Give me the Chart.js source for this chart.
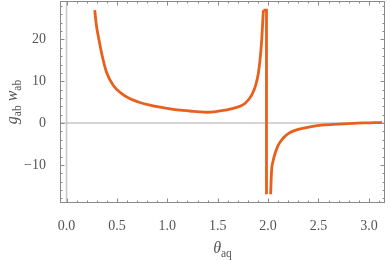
<!DOCTYPE html>
<html><head><meta charset="utf-8">
<script src="https://cdn.jsdelivr.net/npm/chart.js@4"></script>
<style>html,body{margin:0;padding:0;background:#fff}#wrap{width:390px;height:260px}</style>
</head><body><div id="wrap"><canvas id="c"></canvas></div>
<script>
// ---- data ----
const thetaLeft = [0.280,0.296,0.319,0.352,0.395,0.461,0.544,0.63,0.72,0.828,0.93,1.027,1.125,1.225,1.32,1.39,1.48,1.572,1.68,1.77,1.837,1.877,1.903,1.92,1.937,1.953];
const gwLeft    = [27,23.4,20.3,16.3,12.3,9.1,7.1,5.8,5.0,4.3,3.8,3.4,3.1,2.9,2.7,2.6,2.75,3.1,3.7,4.7,6.7,9.1,11.9,15.1,20,27];
const thetaJump = [1.953,1.984,1.984];
const gwJump    = [27,27,-17];
const thetaRight = [2.025,2.035,2.05,2.07,2.10,2.12,2.16,2.20,2.26,2.33,2.43,2.53,2.65,2.80,2.95,3.05,3.13];
const gwRight    = [-17,-11.2,-9,-7.2,-5.3,-4.5,-3.3,-2.5,-1.8,-1.3,-0.85,-0.5,-0.3,-0.1,0.05,0.1,0.15];
const xMajorTicks = [0,0.5,1.0,1.5,2.0,2.5,3.0];
const yMajorTicks = [-10,0,10,20];
const xMinorStep = 0.1, yMinorStep = 2;
const xRange = [-0.065, 3.16], yRange = [-19.1, 29.2];

const lineColor = '#E8601C';
const frameColor = '#8a8a8a';
const textColor = '#555';
const serif = "'Liberation Serif','DejaVu Serif',serif";

const toPts = (xs, ys) => xs.map((v, i) => ({x: v, y: ys[i]}));

const framePlugin = {
  id: 'frame',
  beforeDatasetsDraw(chart) {
    const {ctx, chartArea: a, scales: {x, y}} = chart;
    ctx.save();
    ctx.strokeStyle = '#c8c8c8';
    ctx.lineWidth = 1.5;
    const x0 = x.getPixelForValue(0), y0 = y.getPixelForValue(0);
    ctx.beginPath();
    ctx.moveTo(x0, a.top); ctx.lineTo(x0, a.bottom);
    ctx.moveTo(a.left, y0); ctx.lineTo(a.right, y0);
    ctx.stroke();
    ctx.restore();
  },
  afterDatasetsDraw(chart) {
    const {ctx, chartArea: a, scales: {x, y}} = chart;
    ctx.save();
    ctx.strokeStyle = frameColor;
    ctx.lineWidth = 1;
    ctx.strokeRect(Math.round(a.left) + 0.5, Math.round(a.top) + 0.5,
                   Math.round(a.right - a.left) - 1, Math.round(a.bottom - a.top) - 1);
    ctx.beginPath();
    const xt = (v, len) => {
      const p = Math.round(x.getPixelForValue(v)) + 0.5;
      ctx.moveTo(p, a.bottom); ctx.lineTo(p, a.bottom - len);
      ctx.moveTo(p, a.top); ctx.lineTo(p, a.top + len);
    };
    const yt = (v, len) => {
      const p = Math.round(y.getPixelForValue(v)) + 0.5;
      ctx.moveTo(a.left, p); ctx.lineTo(a.left + len, p);
      ctx.moveTo(a.right, p); ctx.lineTo(a.right - len, p);
    };
    for (let k = Math.ceil(xRange[0] / xMinorStep); k * xMinorStep <= xRange[1]; k++) {
      const v = +(k * xMinorStep).toFixed(6);
      const major = xMajorTicks.some(m => Math.abs(m - v) < 1e-6);
      xt(v, major ? 4.5 : 2.5);
    }
    for (let k = Math.ceil(yRange[0] / yMinorStep); k * yMinorStep <= yRange[1]; k++) {
      const v = k * yMinorStep;
      const major = yMajorTicks.includes(v);
      yt(v, major ? 4.5 : 2.5);
    }
    ctx.stroke();
    ctx.restore();
  },
  afterDraw(chart) {
    const {ctx, chartArea: a} = chart;
    const big = "italic 16px " + serif, small = "11.5px " + serif;
    const drawParts = (parts, cx, baseline) => {
      let w = 0;
      parts.forEach(p => { ctx.font = p.sub ? small : big; p.w = ctx.measureText(p.t).width; w += p.w; });
      let px = cx - w / 2;
      parts.forEach(p => {
        ctx.font = p.sub ? small : big;
        ctx.fillText(p.t, px, baseline + (p.sub ? 3.5 : 0));
        px += p.w;
      });
    };
    ctx.save();
    ctx.fillStyle = textColor;
    ctx.textBaseline = 'alphabetic';
    ctx.textAlign = 'left';
    drawParts([{t:'\u03B8'},{t:'aq',sub:true}], (a.left + a.right) / 2, 253);
    ctx.translate(17, (a.top + a.bottom) / 2);
    ctx.rotate(-Math.PI / 2);
    drawParts([{t:'g'},{t:'ab',sub:true},{t:' w'},{t:'ab',sub:true}], 0, 0);
    ctx.restore();
  }
};

const lineDs = (xs, ys, smooth) => ({
  data: toPts(xs, ys), showLine: true, borderColor: lineColor, borderWidth: 2.8,
  pointRadius: 0, fill: false, tension: 0,
  cubicInterpolationMode: smooth ? 'monotone' : 'default', borderJoinStyle: 'miter'
});

new Chart(document.getElementById('c'), {
  type: 'scatter',
  data: {
    datasets: [
      lineDs(thetaLeft, gwLeft, true),
      lineDs(thetaJump, gwJump, false),
      lineDs(thetaRight, gwRight, true)
    ]
  },
  options: {
    responsive: true, maintainAspectRatio: false, animation: false,
    layout: {padding: {top: 1, right: 5, left: 0, bottom: 0}, autoPadding: false},
    plugins: {legend: {display: false}, tooltip: {enabled: false}},
    scales: {
      x: {
        type: 'linear', min: xRange[0], max: xRange[1],
        grid: {display: false}, border: {display: false},
        ticks: {stepSize: 0.5, includeBounds: false, autoSkip: false, maxRotation: 0, padding: 7,
                color: textColor, font: {family: serif, size: 14},
                callback: v => xMajorTicks.some(m => Math.abs(m - v) < 1e-6) ? (+v).toFixed(1) : ''},
        afterFit(s) { s.height = 57; s.paddingLeft = 0; s.paddingRight = 0; }
      },
      y: {
        type: 'linear', min: yRange[0], max: yRange[1],
        grid: {display: false}, border: {display: false},
        ticks: {stepSize: 10, includeBounds: false, autoSkip: false, padding: 6,
                color: textColor, font: {family: serif, size: 14},
                callback: v => yMajorTicks.includes(v) ? (v < 0 ? '\u2212' + Math.abs(v) : String(v)) : ''},
        afterFit(s) { s.width = 60; s.paddingTop = 0; s.paddingBottom = 0; }
      }
    }
  },
  plugins: [framePlugin]
});
</script>
</body></html>
